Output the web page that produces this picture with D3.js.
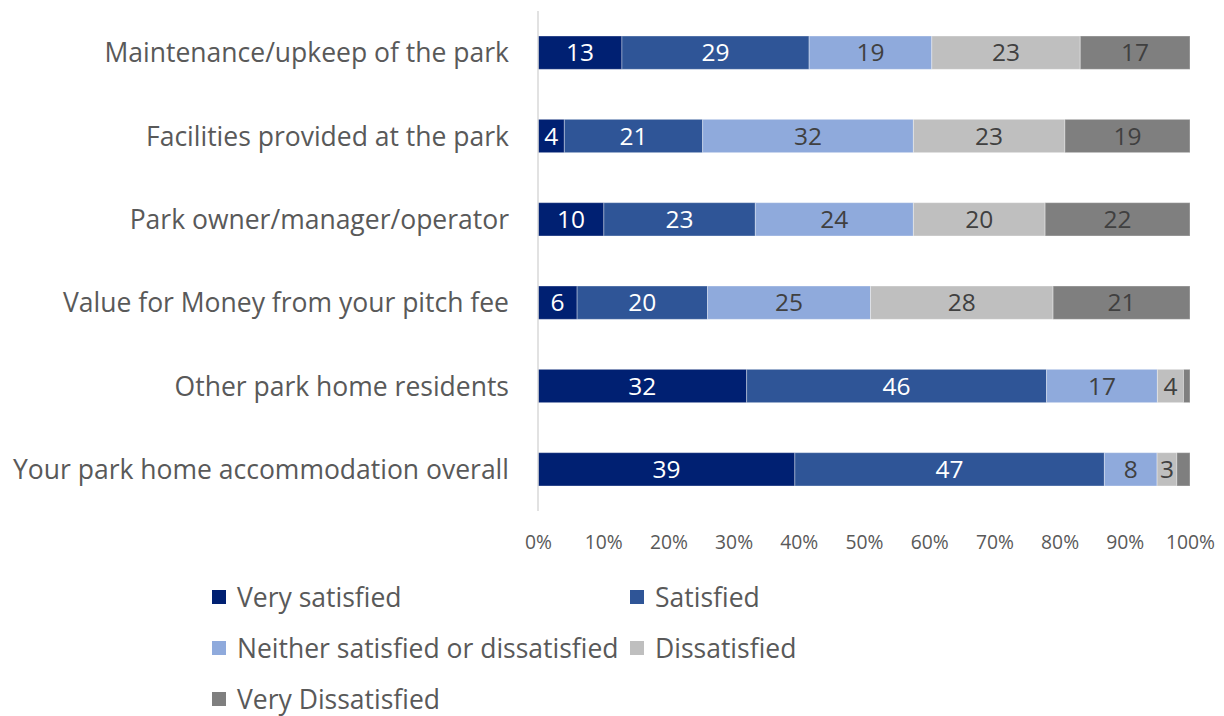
<!DOCTYPE html>
<html>
<head>
<meta charset="utf-8">
<script src="https://cdn.jsdelivr.net/npm/d3@7"></script>
<style>
  html, body { margin: 0; padding: 0; background: #fff; }
  svg { display: block; font-family: "Open Sans", Lato, sans-serif; }
</style>
</head>
<body>
<svg id="chart" width="1224" height="716"></svg>
<script>
// Survey items, listed top to bottom
const categories = [
  "Maintenance/upkeep of the park",
  "Facilities provided at the park",
  "Park owner/manager/operator",
  "Value for Money from your pitch fee",
  "Other park home residents",
  "Your park home accommodation overall"
];

const seriesNames = [
  "Very satisfied",
  "Satisfied",
  "Neither satisfied or dissatisfied",
  "Dissatisfied",
  "Very Dissatisfied"
];

// Percentages per response, in the order of categories
const verySatisfied    = [13, 4, 10, 6, 32, 39];
const satisfied        = [29, 21, 23, 20, 46, 47];
const neither          = [19, 32, 24, 25, 17, 8];
const dissatisfied     = [23, 23, 20, 28, 4, 3];
const veryDissatisfied = [17, 19, 22, 21, 1, 2];

// Which segments carry a printed value
const showLabel = [
  [true, true, true, true, true, true],
  [true, true, true, true, true, true],
  [true, true, true, true, true, true],
  [true, true, true, true, true, true],
  [true, true, true, true, false, false]
];

const tickValues = [0, 0.1, 0.2, 0.3, 0.4, 0.5, 0.6, 0.7, 0.8, 0.9, 1];

const colors = ["#002072", "#2f5597", "#8faadc", "#bfbfbf", "#7f7f7f"];
const labelColors = ["#ffffff", "#ffffff", "#404040", "#404040", "#404040"];

const seriesValues = [verySatisfied, satisfied, neither, dissatisfied, veryDissatisfied];
const rows = categories.map((c, i) => {
  const r = { category: c };
  seriesNames.forEach((s, j) => { r[s] = seriesValues[j][i]; });
  return r;
});

const svg = d3.select("#chart");
const margin = { left: 538, right: 34, top: 11, bottom: 205 };
const W = 1224, H = 716;

const x = d3.scaleLinear().domain([0, 1]).range([margin.left, W - margin.right]);
const y = d3.scaleBand().domain(categories).range([margin.top, H - margin.bottom]).paddingInner(0.6).paddingOuter(0.3);

const stack = d3.stack().keys(seriesNames).offset(d3.stackOffsetExpand);
const layers = stack(rows);

// Stacked bars
const g = svg.append("g");
layers.forEach((layer, j) => {
  const lg = g.append("g");
  lg.selectAll("rect")
    .data(layer)
    .join("rect")
    .attr("x", d => x(d[0]))
    .attr("y", d => y(d.data.category))
    .attr("width", d => x(d[1]) - x(d[0]))
    .attr("height", y.bandwidth())
    .attr("fill", colors[j])
    .attr("stroke", "#ffffff")
    .attr("stroke-opacity", 0.35)
    .attr("stroke-width", 1);

  lg.selectAll("text")
    .data(layer.filter((d, i) => showLabel[j][i]))
    .join("text")
    .attr("x", d => (x(d[0]) + x(d[1])) / 2)
    .attr("y", d => y(d.data.category) + y.bandwidth() / 2)
    .attr("dy", "0.36em")
    .attr("text-anchor", "middle")
    .attr("font-size", 24.5)
    .attr("fill", labelColors[j])
    .text(d => d.data[seriesNames[j]]);
});

// Vertical axis line at 0%
svg.append("line")
  .attr("x1", x(0)).attr("x2", x(0))
  .attr("y1", margin.top).attr("y2", H - margin.bottom)
  .attr("stroke", "#d9d9d9").attr("stroke-width", 1.5);

// Category labels
svg.append("g").selectAll("text")
  .data(categories)
  .join("text")
  .attr("x", 509)
  .attr("y", d => y(d) + y.bandwidth() / 2)
  .attr("dy", "0.36em")
  .attr("text-anchor", "end")
  .attr("font-size", 26.5)
  .attr("fill", "#595959")
  .text(d => d);

// Percentage axis
const xAxis = d3.axisBottom(x).tickValues(tickValues).tickFormat(d3.format(".0%")).tickSize(0).tickPadding(0);
const ax = svg.append("g").attr("transform", `translate(0, 549)`).call(xAxis);
ax.select(".domain").remove();
ax.selectAll("text")
  .attr("font-size", 19.3)
  .attr("fill", "#595959")
  .attr("font-family", "'Open Sans', Lato, sans-serif")
  .attr("dy", 0);

// Legend
const legendPos = [
  [212, 597], [630, 597],
  [212, 648], [630, 648],
  [212, 699]
];
const legend = svg.append("g");
seriesNames.forEach((s, j) => {
  const [lx, ly] = legendPos[j];
  legend.append("rect")
    .attr("x", lx).attr("y", ly - 7)
    .attr("width", 14).attr("height", 14)
    .attr("fill", colors[j]);
  legend.append("text")
    .attr("x", lx + 25).attr("y", ly)
    .attr("dy", "0.36em")
    .attr("font-size", 26.5)
    .attr("fill", "#595959")
    .text(s);
});
</script>
</body>
</html>
